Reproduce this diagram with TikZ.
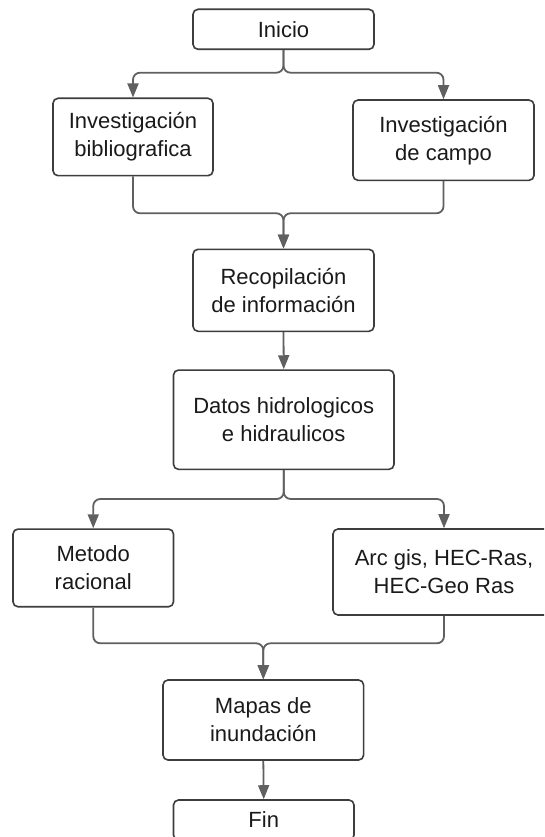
\documentclass[tikz,border=0pt]{standalone}
\usepackage{fontspec}
\setmainfont{Liberation Sans}
\usetikzlibrary{arrows.meta}
\definecolor{boxline}{HTML}{3D3D3D}
\definecolor{connline}{HTML}{606060}
\definecolor{txt}{HTML}{1A1A1A}
\tikzset{
  flowbox/.style={draw=boxline, line width=1.6pt, rounded corners=5pt, fill=white,
    align=center, text=txt, inner sep=0pt,
    font=\fontsize{22}{28}\selectfont},
  conn/.style={draw=connline, line width=1.8pt, rounded corners=7pt,
    -{Triangle[length=14pt,width=11pt]}}
}
\begin{document}
\begin{tikzpicture}[x=1pt,y=1pt]
\useasboundingbox (0,0) rectangle (544,-837);
\fill[white] (0,0) rectangle (544,-837);
\clip (0,0) rectangle (544,-837);

\node[flowbox, minimum width=181pt, minimum height=40pt] (inicio) at (283.5,-29.3) {Inicio};
\node[flowbox, minimum width=160pt, minimum height=77.4pt] (bib) at (133,-137) {Investigación\\bibliografica};
\node[flowbox, minimum width=181pt, minimum height=80.3pt] (campo) at (443.5,-140.2) {Investigación\\de campo};
\node[flowbox, minimum width=181pt, minimum height=82pt] (recop) at (283.5,-290.3) {Recopilación\\de información};
\node[flowbox, minimum width=220.5pt, minimum height=99.3pt] (datos) at (283.75,-419.7) {Datos hidrologicos\\e hidraulicos};
\node[flowbox, minimum width=160.5pt, minimum height=77.7pt] (metodo) at (93.25,-567.9) {Metodo\\racional};
\node[flowbox, minimum width=222pt, minimum height=86pt] (arcgis) at (444,-572) {Arc gis, HEC-Ras,\\HEC-Geo Ras};
\node[flowbox, minimum width=200.6pt, minimum height=80pt] (mapas) at (263.3,-720) {Mapas de\\inundación};
\node[flowbox, minimum width=180.5pt, minimum height=40pt] (fin) at (263.75,-820) {Fin};

\coordinate (s1) at (283.5,-72.7);
\coordinate (m1) at (283.5,-213.3);
\coordinate (s2) at (283.75,-499);
\coordinate (m2) at (263.3,-643.3);

\draw[conn] (inicio.south) -- (s1) -| (bib.north);
\draw[conn] (inicio.south) -- (s1) -| (campo.north);
\draw[conn] (bib.south) |- (m1) -- (recop.north);
\draw[conn] (campo.south) |- (m1) -- (recop.north);
\draw[conn] (recop.south) -- (datos.north);
\draw[conn] (datos.south) -- (s2) -| (metodo.north);
\draw[conn] (datos.south) -- (s2) -| (arcgis.north);
\draw[conn] (metodo.south) |- (m2) -- (mapas.north);
\draw[conn] (arcgis.south) |- (m2) -- (mapas.north);
\draw[conn] (mapas.south) -- (fin.north);
\end{tikzpicture}
\end{document}
